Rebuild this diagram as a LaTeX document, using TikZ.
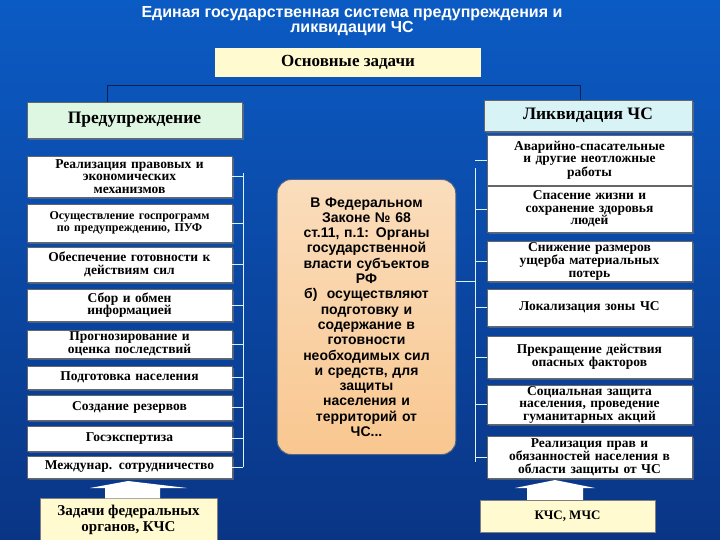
\documentclass[tikz,border=0pt]{standalone}
\usepackage{fontspec}
\setmainfont{Liberation Serif}
\setsansfont{Liberation Sans}
\usetikzlibrary{shadows}
\definecolor{bgtop}{HTML}{0B5BC4}
\definecolor{bgbot}{HTML}{0A3585}
\definecolor{lyel}{HTML}{FFFAD0}
\definecolor{lgrn}{HTML}{DDF7E2}
\definecolor{lcyan}{HTML}{D8F3F6}
\definecolor{peach}{HTML}{F8CFA0}
\definecolor{navy}{HTML}{0A2050}
\begin{document}
\begin{tikzpicture}[x=1pt,y=-1pt,
  box/.style={draw=black!60,fill=white,align=center,inner sep=1pt,font=\bfseries\fontsize{13.5}{12.5}\selectfont,drop shadow={shadow xshift=2pt,shadow yshift=-2pt,fill=black!50}},
  hdr/.style={draw=black!60,align=center,font=\bfseries\fontsize{17.5}{17}\selectfont,drop shadow={shadow xshift=2pt,shadow yshift=-2pt,fill=black!50}},
  brk/.style={draw=white!85!cyan,line width=0.8pt},
  upar/.style={fill=white,draw=none}]
\useasboundingbox (0,0) rectangle (720,540);
\shade[top color=bgtop,bottom color=bgbot] (0,0) rectangle (720,540);
% title
\node[text=white,font=\sffamily\bfseries\fontsize{16}{15}\selectfont,align=center] (title) at (352,21) {Единая государственная система предупреждения и\\ликвидации ЧС};
\node[fill=lyel,minimum width=266pt,minimum height=29pt,font=\bfseries\fontsize{17}{17}\selectfont] (osn) at (348,62.5) {Основные задачи};
% headers
\node[hdr,fill=lgrn,minimum width=215pt,minimum height=36pt] (pre) at (134.5,120) {Предупреждение};
\node[hdr,fill=lcyan,minimum width=208pt,minimum height=31pt] (liq) at (588,115.5) {Ликвидация ЧС};
\coordinate (tl) at (107,85);
\coordinate (tr) at (580,85);
\draw[navy,line width=0.8pt] (pre.north -| tl) -- (tl) -- (tr) -- (liq.north -| tr);
% left boxes
\foreach \n/\y/\h/\t in {
 l1/176.5/41/{Реализация правовых и\\экономических\\механизмов},
 l2/223/38/{\fontsize{12}{14}\selectfont Осуществление госпрограмм\\\fontsize{12}{14}\selectfont по предупреждению, ПУФ},
 l3/264.5/35/{Обеспечение готовности к\\действиям сил},
 l4/305/32/{Сбор и обмен\\информацией},
 l5/344/28/{Прогнозирование и\\оценка последствий},
 l6/377.5/23/{Подготовка населения},
 l7/407.5/25/{Создание резервов},
 l8/438.5/25/{Госэкспертиза},
 l9/467/22/{Междунар. сотрудничество}}
 {\node[box,minimum width=205pt,minimum height=\h pt,text width=203pt] (\n) at (129.5,\y) {\t};}
\coordinate (lb1) at (243,173);
\coordinate (lb2) at (243,467);
\draw[brk] (lb1) -- (lb2);
\foreach \n in {l1,l2,l3,l4,l5,l6,l7,l8,l9} \draw[brk] (\n.east) -- (\n.east -| lb1);
% right boxes
\foreach \n/\y/\h/\t in {
 r1/160/50/{Аварийно-спасательные\\и другие неотложные\\работы},
 r2/209/46/{Спасение жизни и\\сохранение здоровья\\людей},
 r3/261/40/{Снижение размеров\\ущерба материальных\\потерь},
 r4/307.5/37/{Локализация зоны ЧС\\[16pt]},
 r5/357/42/{Прекращение действия\\опасных факторов\\[14pt]},
 r6/404.5/39/{Социальная защита\\населения, проведение\\гуманитарных акций},
 r7/457/42/{Реализация прав и\\обязанностей населения в\\области защиты от ЧС}}
 {\node[box,minimum width=205pt,minimum height=\h pt,text width=203pt] (\n) at (589.5,\y) {\t};}
\coordinate (rb1) at (475,168);
\coordinate (rb2) at (475,462);
\draw[brk] (rb1) -- (rb2);
\foreach \n in {r1,r2,r3,r4,r5,r6,r7} \draw[brk] (\n.west) -- (\n.west -| rb1);
% center
\node[draw=navy!70,line width=1pt,rounded corners=14pt,top color=peach!70!white,bottom color=peach!90!orange,minimum width=177pt,minimum height=275pt,font=\sffamily\bfseries\fontsize{14}{15.3}\selectfont,align=center,text width=172pt] (mid) at (366.5,317) {В Федеральном\\Законе № 68\\ст.11, п.1: Органы\\государственной\\власти субъектов\\РФ\\б)\ \ осуществляют\\подготовку и\\содержание в\\готовности\\необходимых сил\\и средств, для\\защиты\\населения и\\территорий от\\ЧС...};
\draw[brk] (mid.east |- 0,281) -- (rb1 |- 0,281);
% bottom
\node[fill=lyel,draw=black!50,minimum width=177pt,minimum height=43pt,font=\bfseries\fontsize{15}{16}\selectfont,align=center] (fed) at (128.5,520) {Задачи федеральных\\органов, КЧС};
\node[fill=lyel,draw=black!50,minimum width=175pt,minimum height=32pt,font=\bfseries\fontsize{13}{13}\selectfont] (kchs) at (567.5,516) {КЧС, МЧС};
\fill[upar] (fed.north -| 105,0) -- (105,488) -- (90,488) -- (128,481) -- (187,488) -- (160,488) -- (fed.north -| 160,0) -- cycle;
\fill[upar] (kchs.north -| 527,0) -- (527,488) -- (515,488) -- (555,480) -- (595,488) -- (583,488) -- (kchs.north -| 583,0) -- cycle;
\end{tikzpicture}
\end{document}
